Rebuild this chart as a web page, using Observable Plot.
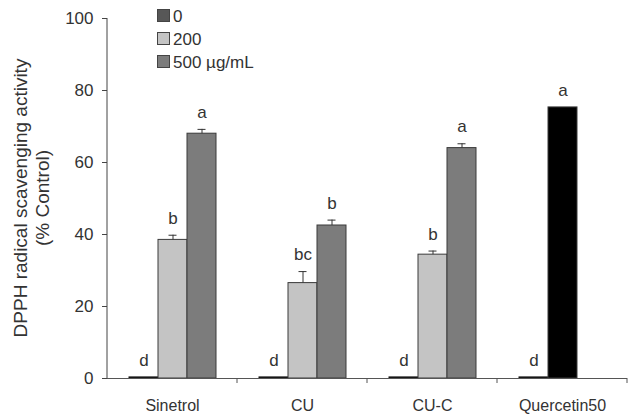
<!DOCTYPE html>
<html><head><meta charset="utf-8">
<script src="https://cdn.jsdelivr.net/npm/d3@7"></script>
<script src="https://cdn.jsdelivr.net/npm/@observablehq/plot@0.6"></script>
<style>
body{margin:0;background:#fff;font-family:"Liberation Sans",Arial,sans-serif;}
#wrap{position:relative;width:630px;height:414px;}
#legend{position:absolute;left:157px;top:5px;font-size:17px;color:#333;line-height:23px;}
#legend .sw{display:inline-block;width:11px;height:11px;border:1px solid #444;vertical-align:0px;margin-right:3px;}
</style></head>
<body><div id="wrap"><div id="legend"></div></div>
<script>
const categories = ["Sinetrol", "CU", "CU-C", "Quercetin50"];
const doses = ["0", "200", "500"];
const doseLabels = ["0", "200", "500 µg/mL"];
const values = [
  [0.3, 38.5, 68.0],
  [0.3, 26.5, 42.5],
  [0.3, 34.4, 64.0],
  [0.3, 75.3, null]
];
const errors = [
  [0, 1.3, 1.2],
  [0, 3.2, 1.5],
  [0, 1.0, 1.2],
  [0, 0, null]
];
const letters = [
  ["d", "b", "a"],
  ["d", "bc", "b"],
  ["d", "b", "a"],
  ["d", "a", ""]
];
const yTicks = [0, 20, 40, 60, 80, 100];
const yLabelLines = ["DPPH radical scavenging activity", "(% Control)"];

const doseColors = {"0": "#575757", "200": "#c4c4c4", "500": "#7c7c7c"};
const quercetinColor = "#000000";

const rows = [];
categories.forEach((c, i) => doses.forEach((d, j) => {
  if (values[i][j] == null) return;
  rows.push({cat: c, dose: d, value: values[i][j], err: errors[i][j], letter: letters[i][j]});
}));
const fillOf = r => r.cat === "Quercetin50" && r.dose !== "0" ? quercetinColor : doseColors[r.dose];

const plot = Plot.plot({
  width: 630, height: 414,
  marginLeft: 107, marginRight: 3, marginTop: 18, marginBottom: 36,
  style: {fontFamily: "Liberation Sans, Arial, sans-serif", fontSize: "17px", color: "#333", background: "#fff"},
  fx: {domain: categories, padding: 0, label: null},
  x: {domain: doses, paddingInner: 0, paddingOuter: 0.74, axis: null},
  y: {domain: [0, 100], label: null},
  marks: [
    Plot.axisY({ticks: yTicks, tickSize: 5, tickPadding: 9, label: null, stroke: "#444", fontSize: 17}),
    Plot.axisFx({anchor: "bottom", tickSize: 0, tickPadding: 21, label: null, fontSize: 16}),
    Plot.barY(rows, {fx: "cat", x: "dose", y: "value", fill: fillOf, stroke: d => d.dose === "0" ? "#111" : "#3a3a3a", strokeWidth: 1}),
    Plot.ruleY([0], {stroke: "#555"}),
    Plot.ruleX(rows.filter(r => r.err > 0), {fx: "cat", x: "dose", y1: "value", y2: d => d.value + d.err, stroke: "#333"}),
    Plot.tickY(rows.filter(r => r.err > 0), {fx: "cat", x: "dose", y: d => d.value + d.err, stroke: "#333", insetLeft: 10.5, insetRight: 10.5}),
    Plot.text(rows, {fx: "cat", x: "dose", y: d => d.value + d.err, text: "letter", dy: -17, fontSize: 17, fill: "#333"})
  ]
});

const svg = d3.select(plot);
const fx = plot.scale("fx"), y = plot.scale("y");
const y0 = y.apply(0), yTop = y.apply(100);
const left = fx.apply(categories[0]);
svg.append("line").attr("x1", left).attr("x2", left).attr("y1", yTop).attr("y2", y0).attr("stroke", "#444");
categories.forEach(c => {
  const xb = fx.apply(c) + fx.bandwidth;
  svg.append("line").attr("x1", xb).attr("x2", xb).attr("y1", y0).attr("y2", y0 + 5).attr("stroke", "#555");
});
svg.append("text")
  .attr("transform", `translate(${20},${(yTop + y0) / 2}) rotate(-90)`)
  .attr("text-anchor", "middle").attr("font-size", 19).attr("fill", "#333")
  .selectAll("tspan").data(yLabelLines).join("tspan")
  .attr("x", 0).attr("dy", (d, i) => i === 0 ? "0.35em" : "22px").text(d => d);

document.getElementById("wrap").prepend(plot);
const lg = document.getElementById("legend");
doses.forEach((d, i) => {
  const div = document.createElement("div");
  div.innerHTML = `<span class="sw" style="background:${doseColors[d]}"></span>${doseLabels[i]}`;
  lg.appendChild(div);
});
</script></body></html>
